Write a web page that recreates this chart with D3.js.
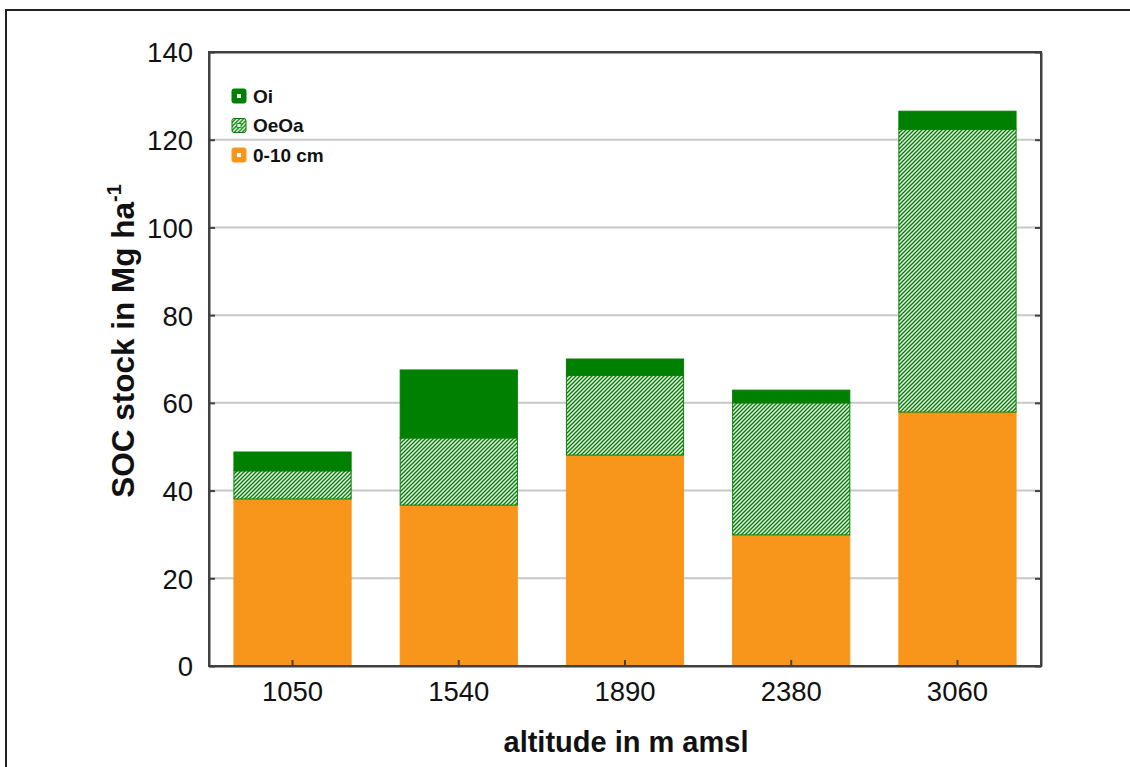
<!DOCTYPE html>
<html>
<head>
<meta charset="utf-8">
<script src="https://cdn.jsdelivr.net/npm/d3@7"></script>
<style>
  html, body { margin: 0; padding: 0; background: #fff; }
  svg { display: block; font-family: Arial, "Liberation Sans", sans-serif; }
</style>
</head>
<body>
<svg id="chart" width="1130" height="767"></svg>
<script>
// SOC stock per altitude, stacked by horizon (Mg ha-1)
const altitudes = ["1050", "1540", "1890", "2380", "3060"];
const mineral010 = [38.1, 36.7, 48.1, 29.9, 57.9];   // 0-10 cm
const oeoa       = [6.4, 15.3, 18.2, 30.1, 64.5];    // OeOa
const oi         = [4.3, 15.5, 3.7, 2.9, 4.1];       // Oi
const seriesNames = ["0-10 cm", "OeOa", "Oi"];
const legendOrder = ["Oi", "OeOa", "0-10 cm"];
const yTicks = [0, 20, 40, 60, 80, 100, 120, 140];

const GREEN = "#008000";
const ORANGE = "#F7961A";

const svg = d3.select("#chart");
const margin = { left: 209, right: 1041, top: 52, bottom: 666 };

const rows = altitudes.map((a, i) => ({
  altitude: a, "0-10 cm": mineral010[i], "OeOa": oeoa[i], "Oi": oi[i]
}));
const stacked = d3.stack().keys(seriesNames)(rows);

const x = d3.scaleBand().domain(altitudes).range([margin.left, margin.right]).paddingInner(0.295).paddingOuter(0.15);
const y = d3.scaleLinear().domain([0, 140]).range([margin.bottom, margin.top]);

// diagonal hatch for OeOa
const defs = svg.append("defs");
const pat = defs.append("pattern")
  .attr("id", "hatch").attr("patternUnits", "userSpaceOnUse")
  .attr("width", 4).attr("height", 4);
pat.append("rect").attr("width", 4).attr("height", 4).attr("fill", "#fff");
pat.append("path").attr("d", "M-1,1 L1,-1 M0,4 L4,0 M3,5 L5,3")
  .attr("stroke", GREEN).attr("stroke-width", 1.45);

const fills = { "0-10 cm": ORANGE, "OeOa": "url(#hatch)", "Oi": GREEN };
const strokes = { "0-10 cm": ORANGE, "OeOa": GREEN, "Oi": GREEN };

// outer frame
svg.append("path").attr("d", "M6,767 L6,10 L1130,10")
  .attr("fill", "none").attr("stroke", "#222").attr("stroke-width", 2);

// gridlines
svg.append("g").selectAll("line").data(yTicks.filter(t => t > 0 && t < 140)).join("line")
  .attr("x1", margin.left).attr("x2", margin.right)
  .attr("y1", d => y(d)).attr("y2", d => y(d))
  .attr("stroke", "#c8c8c8").attr("stroke-width", 2);

// bars
svg.append("g").selectAll("g").data(stacked).join("g")
  .selectAll("rect").data(s => s.map(d => ({ key: s.key, d }))).join("rect")
  .attr("x", v => x(v.d.data.altitude))
  .attr("width", x.bandwidth())
  .attr("y", v => y(v.d[1]))
  .attr("height", v => y(v.d[0]) - y(v.d[1]))
  .attr("fill", v => fills[v.key])
  .attr("stroke", v => strokes[v.key])
  .attr("stroke-width", 1);

// axes (ticks pointing inward)
const axisColor = "#404040";
const leftAxis = svg.append("g").attr("transform", `translate(${margin.left},0)`)
  .call(d3.axisLeft(y).tickValues(yTicks).tickSize(-6).tickPadding(16).tickSizeOuter(0));
const rightAxis = svg.append("g").attr("transform", `translate(${margin.right},0)`)
  .call(d3.axisRight(y).tickValues(yTicks).tickSize(-6).tickFormat("").tickSizeOuter(0));
const bottomAxis = svg.append("g").attr("transform", `translate(0,${margin.bottom})`)
  .call(d3.axisBottom(x).tickSize(-6).tickPadding(15).tickSizeOuter(0));
const topAxis = svg.append("g").attr("transform", `translate(0,${margin.top})`)
  .call(d3.axisTop(x).tickSize(0).tickFormat("").tickSizeOuter(0));

[leftAxis, rightAxis, bottomAxis, topAxis].forEach(g => {
  g.select(".domain").attr("stroke", axisColor).attr("stroke-width", 2);
  g.selectAll(".tick line").attr("stroke", axisColor).attr("stroke-width", 2);
  g.selectAll(".tick text").attr("fill", "#111").attr("font-size", 27.5)
    .attr("font-family", "Arial, 'Liberation Sans', sans-serif");
});
// keep the plot box corners closed
svg.append("rect").attr("x", margin.left).attr("y", margin.top)
  .attr("width", margin.right - margin.left).attr("height", margin.bottom - margin.top)
  .attr("fill", "none").attr("stroke", axisColor).attr("stroke-width", 2);
leftAxis.selectAll(".tick text").attr("dy", "0.36em");

// axis titles
svg.append("text").attr("x", 626).attr("y", 752).attr("text-anchor", "middle")
  .attr("font-size", 29).attr("font-weight", "bold").attr("fill", "#111")
  .text("altitude in m amsl");

const yt = svg.append("text").attr("transform", "translate(134,341) rotate(-90)")
  .attr("text-anchor", "middle").attr("font-size", 31.5).attr("font-weight", "bold").attr("fill", "#111");
yt.append("tspan").text("SOC stock in Mg ha");
yt.append("tspan").attr("dy", -13).attr("font-size", 20).text("-1");

// legend
const legend = svg.append("g");
legendOrder.forEach((name, i) => {
  const cy = 96 + i * 29.5;
  const g = legend.append("g").attr("transform", `translate(232,${cy - 7})`);
  g.append("rect").attr("width", 14).attr("height", 14).attr("rx", 2)
    .attr("fill", fills[name]).attr("stroke", strokes[name]).attr("stroke-width", 1);
  g.append("rect").attr("x", 5).attr("y", 5).attr("width", 4).attr("height", 4)
    .attr("fill", "#fff").attr("stroke", name === "OeOa" ? GREEN : "none").attr("stroke-width", 0.8);
  legend.append("text").attr("x", 253).attr("y", cy).attr("dy", "0.36em")
    .attr("font-size", 19).attr("font-weight", "bold").attr("fill", "#111").text(name);
});
</script>
</body>
</html>
